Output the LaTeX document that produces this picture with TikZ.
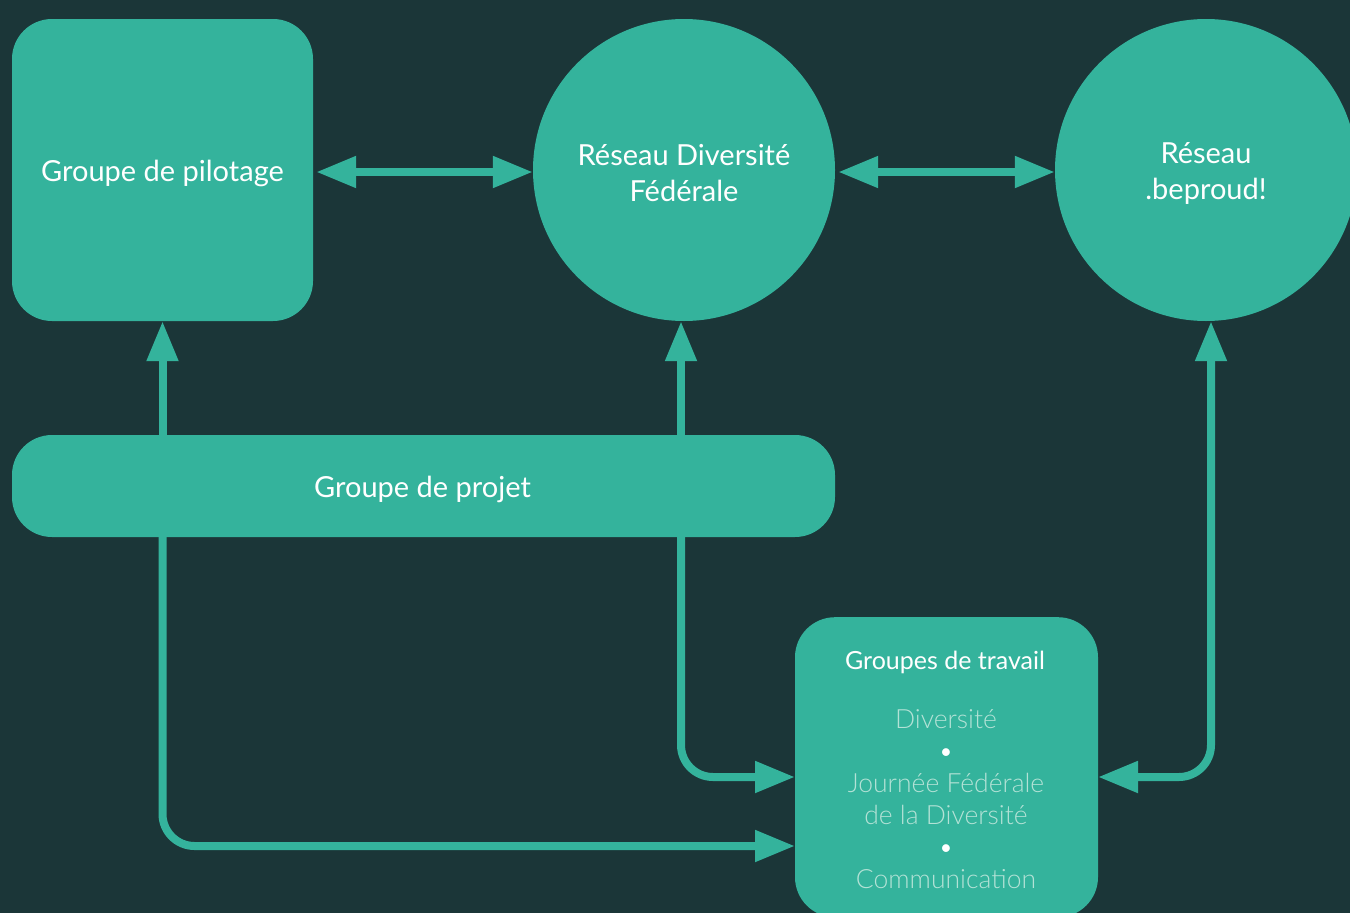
\documentclass[tikz,border=0pt]{standalone}
\usepackage{fontspec}
\setmainfont{Lato}
\newfontfamily\lightfont{Lato Light}
\usetikzlibrary{arrows.meta}
\definecolor{bgc}{HTML}{1B3638}
\definecolor{mint}{HTML}{34B39C}
\definecolor{lighttxt}{HTML}{B3E2D6}
\begin{document}
\begin{tikzpicture}[x=1pt,y=-1pt,
  lbl/.style={text=white, align=center, inner sep=0pt, font=\fontsize{29}{36}\selectfont},
  box/.style={fill=mint, rounded corners=40pt, inner sep=0pt},
  circ/.style={circle, fill=mint, inner sep=0pt, minimum size=302pt},
  conn/.style={draw=mint, line width=8pt, >={Triangle[length=40pt,width=30pt]}}
]
\useasboundingbox (0,0) rectangle (1350,913);
\fill[bgc] (0,0) rectangle (1350,913);
\clip (0,0) rectangle (1350,913);
\node[box, minimum width=301pt, minimum height=302pt,
  label={[lbl,yshift=-3pt]center:Groupe de pilotage}] (pil) at (162.5,170) {};
\node[circ, label={[lbl,yshift=-3pt]center:Réseau Diversité\\Fédérale}] (rdf) at (684,170) {};
\node[circ, label={[lbl,yshift=-3pt]center:Réseau\\.beproud!}] (bp) at (1206,170) {};
\node[box, minimum width=823pt, minimum height=102pt,
  label={[lbl,yshift=-3pt,xshift=-1pt]center:Groupe de projet}] (proj) at (423.5,486) {};
\node[box, minimum width=303pt, minimum height=300pt, anchor=north] (gt) at (946.5,617) {};
\node[lbl, font=\fontsize{25}{30}\selectfont] (gtt) at (945,662) {Groupes de travail};
\node[lbl, text=lighttxt, font=\lightfont\fontsize{26.5}{32}\selectfont, anchor=north] (gtl) at (946,709) {Diversité\\\textcolor{white}{•}\\Journée Fédérale\\de la Diversité\\\textcolor{white}{•}\\Communication};
\coordinate (gtin1) at (795,777);
\coordinate (gtin2) at (795,846);
\coordinate (gtout) at (1098,777);
\coordinate (rdfs) at ([xshift=-3pt]rdf.south);
\coordinate (bps) at ([xshift=5pt]bp.south);
\draw[conn, <->, shorten <=3pt] ([yshift=-2pt]pil.east) -- ([yshift=-2pt]rdf.west);
\draw[conn, <->, shorten <=3pt] ([yshift=-2pt]rdf.east) -- ([yshift=-2pt]bp.west);
\draw[conn, ->] (proj.north -| pil.south) -- (pil.south);
\draw[conn, ->] (proj.north -| rdfs) -- (rdfs);
\draw[conn, ->, rounded corners=32pt] (proj.south -| rdfs) |- (gtin1);
\draw[conn, ->, rounded corners=32pt] (proj.south -| pil.south) |- (gtin2);
\draw[conn, <->, rounded corners=32pt] (gtout) -| (bps);
\end{tikzpicture}
\end{document}
